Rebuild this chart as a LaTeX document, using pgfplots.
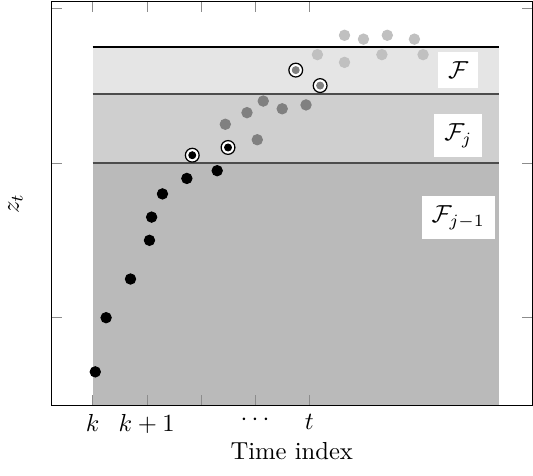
\documentclass[border=0pt]{standalone}
\usepackage{pgfplots}
\pgfplotsset{compat=1.18}
\definecolor{fF}{RGB}{229,229,229}
\definecolor{fFj}{RGB}{207,207,207}
\definecolor{fFjm}{RGB}{186,186,186}
\definecolor{midgray}{RGB}{128,128,128}
\definecolor{lightgray}{RGB}{192,192,192}
\begin{document}
\begin{tikzpicture}
\begin{axis}[
  width=195.5pt, height=164pt,
  scale only axis,
  axis on top,
  xmin=-0.766, xmax=8.12,
  ymin=0.433, ymax=3.043,
  xtick={0,1,2,3,4}, xticklabels={$k$,$k+1$,,$\cdots$,$t$},
  ytick={1,2,3}, yticklabels={},
  tick style={black!45},
  xlabel={Time index}, ylabel={$z_t$},
  xlabel style={yshift=3pt, text depth=3pt},
  ylabel style={yshift=1.2pt},
  clip=false,
]
% regions
\addplot[fill=fF, draw=none] coordinates {(0,0.433) (0,2.75) (7.5,2.75) (7.5,0.433)} -- cycle;
\addplot[fill=fFj, draw=none] coordinates {(0,0.433) (0,2.446) (7.5,2.446) (7.5,0.433)} -- cycle;
\addplot[fill=fFjm, draw=none] coordinates {(0,0.433) (0,2.0) (7.5,2.0) (7.5,0.433)} -- cycle;
\addplot[black, line width=0.5pt] coordinates {(0,2.75) (7.5,2.75)};
\addplot[black!70, line width=0.5pt] coordinates {(0,2.446) (7.5,2.446)};
\addplot[black!70, line width=0.5pt] coordinates {(0,2.0) (7.5,2.0)};
% black points
\addplot[only marks, mark=*, mark size=2.1pt, black] coordinates {
  (0.05,0.65) (0.25,1.0) (0.7,1.25) (1.05,1.5) (1.09,1.65) (1.29,1.8) (1.74,1.9) (2.3,1.95)};
% circled black
\addplot[only marks, mark=*, mark size=2.8pt, mark options={fill=white, draw=black, line width=0.5pt}] coordinates {(1.84,2.05) (2.5,2.1)};
\addplot[only marks, mark=*, mark size=1.4pt, black] coordinates {(1.84,2.05) (2.5,2.1)};
% medium gray points
\addplot[only marks, mark=*, mark size=2.1pt, midgray] coordinates {
  (2.45,2.25) (2.85,2.325) (3.15,2.4) (3.04,2.15) (3.5,2.35) (3.94,2.375)};
% circled medium gray
\addplot[only marks, mark=*, mark size=2.8pt, mark options={fill=white, draw=black, line width=0.5pt}] coordinates {(3.75,2.6) (4.2,2.5)};
\addplot[only marks, mark=*, mark size=1.4pt, midgray] coordinates {(3.75,2.6) (4.2,2.5)};
% light gray points
\addplot[only marks, mark=*, mark size=2.1pt, lightgray] coordinates {
  (4.15,2.7) (4.65,2.825) (4.65,2.65) (5.0,2.8) (5.34,2.7) (5.44,2.825) (5.94,2.8) (6.1,2.7)};
% labels
\node[fill=white, inner sep=4pt] at (axis cs:6.75,2.6) {$\mathcal{F}$};
\node[fill=white, inner sep=4pt] at (axis cs:6.75,2.177) {$\mathcal{F}_j$};
\node[fill=white, inner sep=4pt] at (axis cs:6.75,1.647) {$\mathcal{F}_{j-1}$};
\end{axis}
\end{tikzpicture}
\end{document}
